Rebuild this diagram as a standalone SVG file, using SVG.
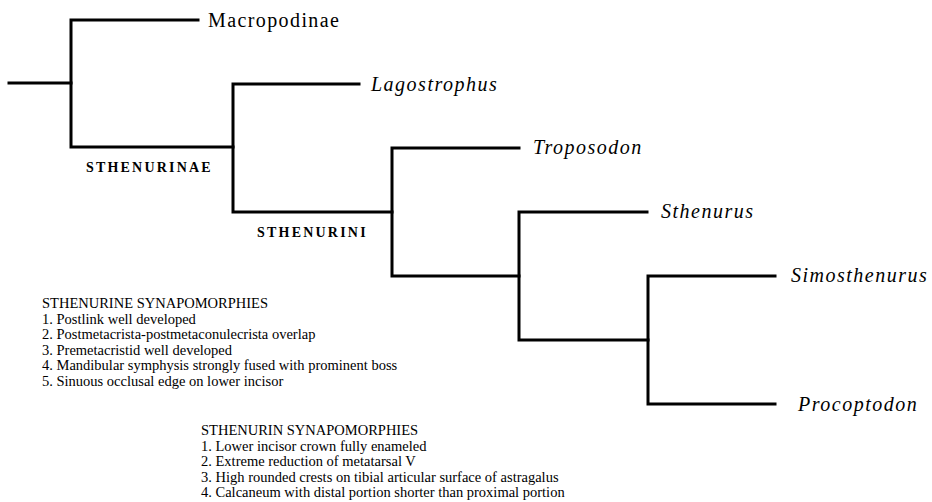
<svg xmlns="http://www.w3.org/2000/svg" width="932" height="502" viewBox="0 0 932 502">
<style>
.br{fill:none;stroke:#000;stroke-width:3;stroke-linejoin:miter;stroke-linecap:square}
.tx{font-family:"Liberation Serif","Times New Roman",serif;fill:#000}
.taxon{font-size:20px;font-style:italic;letter-spacing:1.5px}
.root{font-size:20px;letter-spacing:1.4px}
.clade{font-size:14px;font-weight:bold;letter-spacing:2.4px}
.syn{font-size:14.5px}
</style>
<rect width="932" height="502" fill="#fff"/>
<g id="connectors">
<path class="br" d="M9 83 H71"/>
<path class="br" d="M198 20 H71 V147 H233"/>
<path class="br" d="M359 84 H233 V212 H392"/>
<path class="br" d="M519 148 H392 V276 H519"/>
<path class="br" d="M647 212 H519 V340 H648"/>
<path class="br" d="M775 276 H648 V404 H775"/>
</g>
<g id="macropodinae"><text class="tx root" x="208" y="27">Macropodinae</text></g>
<g id="lagostrophus"><text class="tx taxon" x="371" y="91">Lagostrophus</text></g>
<g id="troposodon"><text class="tx taxon" x="533" y="154">Troposodon</text></g>
<g id="sthenurus"><text class="tx taxon" x="661" y="218">Sthenurus</text></g>
<g id="simosthenurus"><text class="tx taxon" x="791" y="282">Simosthenurus</text></g>
<g id="procoptodon"><text class="tx taxon" x="798" y="411">Procoptodon</text></g>
<g id="sthenurinae"><text class="tx clade" x="86" y="172" textLength="127" lengthAdjust="spacing">STHENURINAE</text></g>
<g id="sthenurini"><text class="tx clade" x="257" y="237" textLength="111" lengthAdjust="spacing">STHENURINI</text></g>
<g id="sthenurine-synapomorphies" class="tx syn">
<text x="42" y="308">STHENURINE SYNAPOMORPHIES</text>
<text x="42" y="323.5">1. Postlink well developed</text>
<text x="42" y="339">2. Postmetacrista-postmetaconulecrista overlap</text>
<text x="42" y="354.5">3. Premetacristid well developed</text>
<text x="42" y="370">4. Mandibular symphysis strongly fused with prominent boss</text>
<text x="42" y="385.5">5. Sinuous occlusal edge on lower incisor</text>
</g>
<g id="sthenurin-synapomorphies" class="tx syn">
<text x="201" y="435">STHENURIN SYNAPOMORPHIES</text>
<text x="201" y="450.5">1. Lower incisor crown fully enameled</text>
<text x="201" y="466">2. Extreme reduction of metatarsal V</text>
<text x="201" y="481.5">3. High rounded crests on tibial articular surface of astragalus</text>
<text x="201" y="497">4. Calcaneum with distal portion shorter than proximal portion</text>
</g>
</svg>
